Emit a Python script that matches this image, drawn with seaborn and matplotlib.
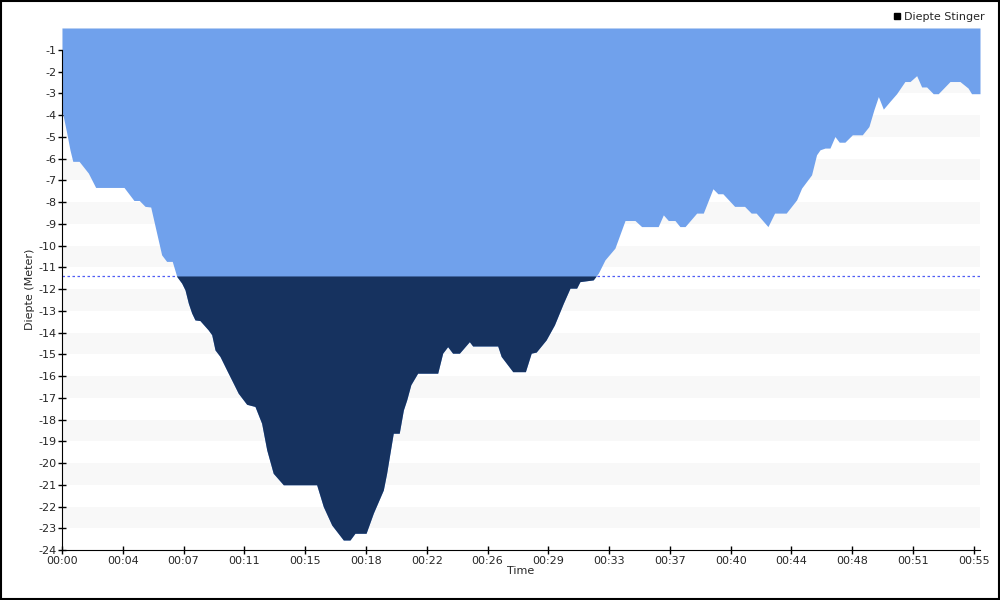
import numpy as np
import pandas as pd
import matplotlib
matplotlib.use("Agg")
import matplotlib.pyplot as plt
import seaborn as sns
from matplotlib.ticker import FixedLocator, MultipleLocator, AutoMinorLocator, FuncFormatter
from matplotlib.lines import Line2D

# tijd in minuten, diepte in meters (positief naar beneden)
tijd = [0.0, 0.08, 0.28, 0.48, 0.65, 1.03, 1.59, 2.03, 3.74, 4.34, 4.66, 5.01, 5.35,
        5.71, 6.01, 6.31, 6.65, 6.92, 7.22, 7.42, 7.62, 7.82, 8.02, 8.32, 8.82, 9.03,
        9.23, 9.53, 9.93, 10.33, 10.63, 11.14, 11.64, 12.04, 12.35, 12.74, 13.35, 15.36,
        15.76, 16.27, 16.97, 17.37, 17.67, 18.34, 18.78, 19.38, 19.58, 19.98, 20.34,
        20.59, 20.79, 21.04, 21.45, 22.66, 22.96, 23.26, 23.56, 23.97, 24.57, 24.77,
        26.28, 26.49, 27.19, 27.95, 28.3, 28.6, 29.2, 29.7, 30.24, 30.64, 31.04, 31.24,
        32.04, 32.35, 32.75, 33.35, 33.96, 34.56, 34.96, 35.96, 36.27, 36.57, 36.97,
        37.27, 37.58, 38.28, 38.68, 39.26, 39.56, 39.86, 40.57, 41.17, 41.57, 41.87,
        42.58, 42.98, 43.68, 44.31, 44.61, 45.21, 45.51, 45.72, 46.02, 46.32, 46.62,
        46.88, 47.22, 47.67, 48.27, 48.67, 48.97, 49.24, 49.54, 49.94, 50.34, 50.84,
        51.15, 51.55, 51.85, 52.15, 52.55, 52.85, 53.56, 54.16, 54.65, 54.86, 55.37]
diepte = [3.8, 4.07, 4.8, 5.6, 6.13, 6.13, 6.67, 7.33, 7.33, 7.93, 7.93, 8.2, 8.23,
          9.43, 10.43, 10.73, 10.73, 11.42, 11.73, 12.04, 12.65, 13.1, 13.42, 13.45, 13.88,
          14.1, 14.8, 15.1, 15.72, 16.33, 16.79, 17.3, 17.4, 18.17, 19.4, 20.47, 21.0,
          21.0, 22.0, 22.85, 23.54, 23.54, 23.23, 23.23, 22.3, 21.24, 20.47, 18.63, 18.63,
          17.56, 17.1, 16.4, 15.87, 15.87, 14.95, 14.65, 14.95, 14.95, 14.42, 14.62,
          14.62, 15.1, 15.8, 15.8, 14.95, 14.9, 14.34, 13.65, 12.65, 11.96, 11.96, 11.66,
          11.58, 11.27, 10.66, 10.12, 8.85, 8.85, 9.13, 9.13, 8.59, 8.85, 8.85,
          9.13, 9.13, 8.51, 8.51, 7.39, 7.62, 7.62, 8.2, 8.2, 8.51, 8.51,
          9.13, 8.51, 8.51, 7.9, 7.36, 6.75, 5.83, 5.6, 5.52, 5.52, 4.99,
          5.25, 5.25, 4.91, 4.91, 4.53, 3.76, 3.15, 3.73, 3.37, 3.02, 2.46,
          2.46, 2.19, 2.71, 2.71, 3.02, 3.02, 2.46, 2.46, 2.76, 3.02, 3.02]

drempel = -11.4
major_min = [i * 55 / 15 for i in range(16)]
y_ticks = list(range(-1, -25, -1))

df = pd.DataFrame({"Time": tijd, "Diepte": -np.array(diepte)})

sns.set_style("white")
plt.rcParams["font.family"] = ["DejaVu Sans"]

fig = plt.figure(figsize=(10, 6), dpi=100)
ax = fig.add_axes([0.062, 0.0833, 0.918, 0.87])

# grijze banden
for k in range(12):
    ax.axhspan(-(2 * k + 1), -2 * k, color="#f8f8f8", zorder=0, lw=0)

ax.axhline(drempel, color="#4f5cf5", lw=0.9, ls=(0, (2, 2)), zorder=1)

x = df["Time"].to_numpy()
y = df["Diepte"].to_numpy()
ax.fill_between(x, 0, y, color="#70a1ec", lw=0, zorder=2)
ax.fill_between(x, drempel, y, where=y < drempel, interpolate=True,
                color="#16325f", lw=0, zorder=3)
sns.lineplot(data=df, x="Time", y="Diepte", ax=ax, color="#70a1ec", lw=0, zorder=2)

ax.set_xlim(0, 55.37)
ax.set_ylim(-24, 0)

ax.xaxis.set_major_locator(FixedLocator(major_min))
ax.xaxis.set_major_formatter(FuncFormatter(lambda v, p: f"00:{int(round(v)):02d}"))
ax.xaxis.set_minor_locator(AutoMinorLocator(10))
ax.yaxis.set_major_locator(FixedLocator(y_ticks))
ax.yaxis.set_major_formatter(FuncFormatter(lambda v, p: f"{int(v)}"))
ax.yaxis.set_minor_locator(FixedLocator([v + 0.5 for v in range(-24, -1)]))

ax.tick_params(axis="both", which="major", direction="inout", length=6, width=1,
               color="black", labelsize=8, pad=1)
ax.tick_params(axis="x", which="minor", direction="out", length=2, width=0.6, color="#555555")
ax.tick_params(axis="y", which="minor", direction="inout", length=3, width=1, color="#e03030")
ax.tick_params(left=True, bottom=True)

for s in ["top", "right"]:
    ax.spines[s].set_visible(False)
ax.spines["left"].set_color("black")
ax.spines["bottom"].set_color("black")
ax.spines["left"].set_bounds(-24, -1)

ax.set_xlabel("Time", fontsize=8, labelpad=0)
ax.set_ylabel("Diepte (Meter)", fontsize=8, labelpad=2)

handle = Line2D([], [], marker="s", color="black", ls="", markersize=5)
fig.legend([handle], ["Diepte Stinger"], loc="upper right", bbox_to_anchor=(0.992, 0.993),
           frameon=False, fontsize=8, handletextpad=0.1, borderaxespad=0.3, handlelength=1)

fig.patches.append(plt.Rectangle((0.0005, 0.001), 0.998, 0.997, transform=fig.transFigure,
                                 fill=False, edgecolor="black", lw=1.5))

fig.savefig("out.png", dpi=100)
